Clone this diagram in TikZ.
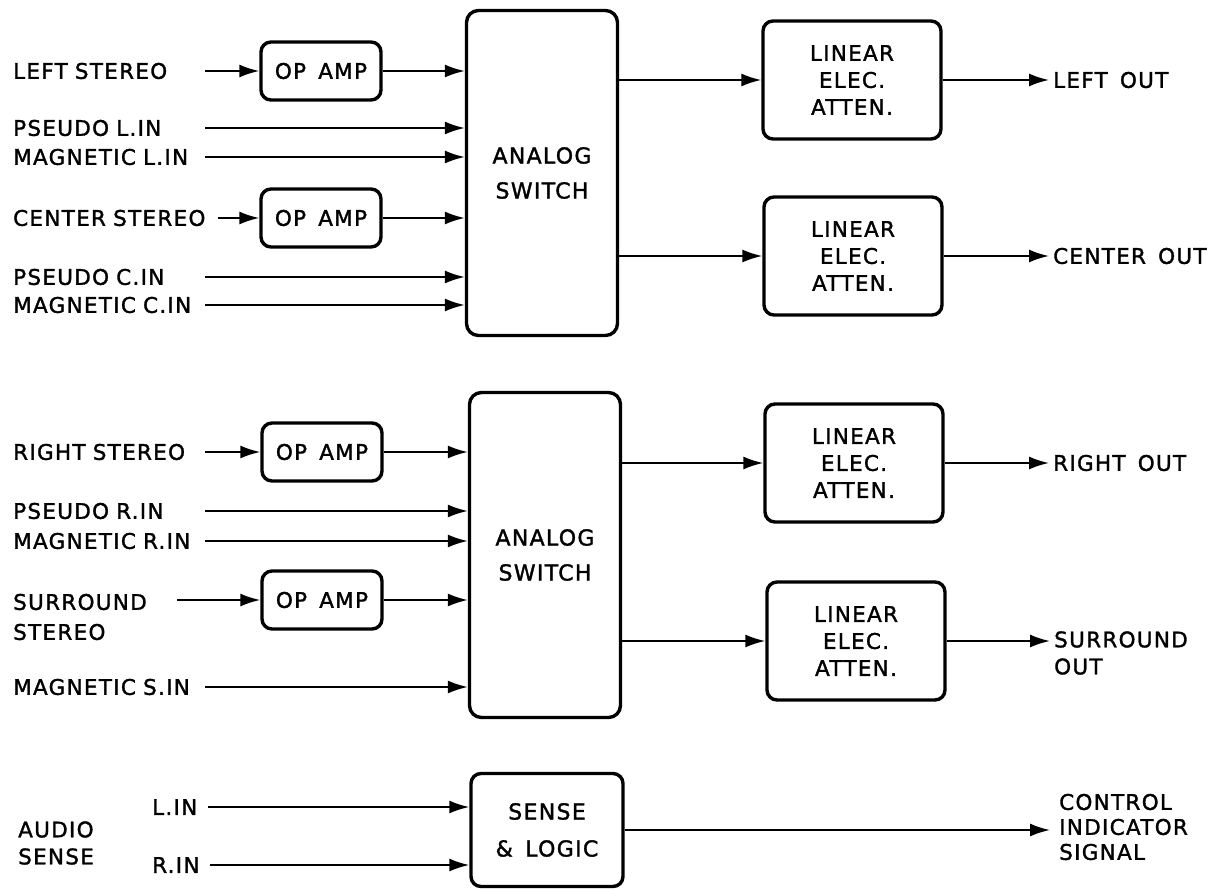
\documentclass[tikz,border=0pt]{standalone}
\usepackage{fontspec}
\setmainfont{DejaVu Sans}[LetterSpace=6, WordSpace=1.5, FakeBold=1.5]
\usetikzlibrary{arrows.meta,positioning,calc}

\begin{document}
\begin{tikzpicture}[x=1pt, y=-1pt, font=\fontsize{21.5}{27}\selectfont,
  blk/.style={draw, line width=3.4pt, rounded corners=10pt, align=center, inner sep=0pt},
  amp/.style={blk, minimum width=120pt, minimum height=58pt},
  att/.style={blk, minimum width=178pt, minimum height=118pt},
  swt/.style={blk, rounded corners=12pt, minimum width=151pt, minimum height=325pt, font=\fontsize{22}{35}\selectfont},
  lbl/.style={anchor=west, inner sep=0pt, text width=192pt, align=left},
  olbl/.style={anchor=west, inner xsep=4pt, inner ysep=0pt, align=left},
  sig/.style={line width=1.9pt, -{Latex[length=20pt, width=13pt]}}]
\useasboundingbox[fill=white] (0,0) rectangle (1222,890);
\node[swt] (swA) at (542,173) {ANALOG\\SWITCH};
\node[amp] (ampL) at (321,71) {OP AMP};
\node[amp] (ampC) at (321,218) {OP AMP};
\node[att] (attL) at (852,80) {LINEAR\\ELEC.\\ATTEN.};
\node[att] (attC) at (853,256) {LINEAR\\ELEC.\\ATTEN.};
\node[lbl] (inLS) at (13,71) {LEFT STEREO};
\node[lbl] (inLP) at (13,128) {PSEUDO L.IN};
\node[lbl] (inLM) at (13,157) {MAGNETIC L.IN};
\node[lbl, text width=205pt] (inCS) at (13,218) {CENTER STEREO};
\node[lbl] (inCP) at (13,277) {PSEUDO C.IN};
\node[lbl] (inCM) at (13,305) {MAGNETIC C.IN};
\node[olbl] (outL) at (1049,80) {LEFT OUT};
\node[olbl] (outC) at (1049,256) {CENTER OUT};
\node[swt] (swB) at (545,555) {ANALOG\\SWITCH};
\node[amp] (ampR) at (322,452) {OP AMP};
\node[amp] (ampS) at (322,600) {OP AMP};
\node[att] (attR) at (854,463) {LINEAR\\ELEC.\\ATTEN.};
\node[att] (attS) at (856,641) {LINEAR\\ELEC.\\ATTEN.};
\node[lbl] (inRS) at (13,452) {RIGHT STEREO};
\node[lbl] (inRP) at (13,511) {PSEUDO R.IN};
\node[lbl] (inRM) at (13,541) {MAGNETIC R.IN};
\node[lbl, text width=164pt, font=\fontsize{21.5}{30}\selectfont] (inSS) at (13,617) {SURROUND\\STEREO};
\node[lbl] (inSM) at (13,687) {MAGNETIC S.IN};
\node[olbl] (outR) at (1049,463) {RIGHT OUT};
\node[olbl] (outS) at (1050,653) {SURROUND\\OUT};
\node[blk, minimum width=152pt, minimum height=113pt, font=\fontsize{22}{37}\selectfont] (logic) at (547,830) {SENSE\\\& LOGIC};
\node[lbl, text width=56pt] (inAL) at (152,807) {L.IN};
\node[lbl, text width=58pt] (inAR) at (152,865) {R.IN};
\node[anchor=west, align=left, inner sep=0pt] (audio) at (18,843) {AUDIO\\SENSE};
\node[olbl, inner xsep=9pt, font=\fontsize{21.5}{25}\selectfont] (ctrl) at (1050,827) {CONTROL\\INDICATOR\\SIGNAL};
\draw[sig] (inLS) -- (ampL);
\draw[sig] (inCS) -- (ampC);
\draw[sig] (ampL.east) -- (ampL.east -| swA.west);
\draw[sig] (inLP.east) -- (inLP.east -| swA.west);
\draw[sig] (inLM.east) -- (inLM.east -| swA.west);
\draw[sig] (ampC.east) -- (ampC.east -| swA.west);
\draw[sig] (inCP.east) -- (inCP.east -| swA.west);
\draw[sig] (inCM.east) -- (inCM.east -| swA.west);
\draw[sig] (attL.west -| swA.east) -- (attL.west);
\draw[sig] (attC.west -| swA.east) -- (attC.west);
\draw[sig] (attL) -- (outL);
\draw[sig] (attC) -- (outC);
\draw[sig] (inRS) -- (ampR);
\draw[sig] (inSS.east |- ampS.west) -- (ampS.west);
\draw[sig] (ampR.east) -- (ampR.east -| swB.west);
\draw[sig] (inRP.east) -- (inRP.east -| swB.west);
\draw[sig] (inRM.east) -- (inRM.east -| swB.west);
\draw[sig] (ampS.east) -- (ampS.east -| swB.west);
\draw[sig] (inSM.east) -- (inSM.east -| swB.west);
\draw[sig] (attR.west -| swB.east) -- (attR.west);
\draw[sig] (attS.west -| swB.east) -- (attS.west);
\draw[sig] (attR) -- (outR);
\draw[sig] (attS.east) -- (attS.east -| outS.west);
\draw[sig] (inAL.east) -- (inAL.east -| logic.west);
\draw[sig] (inAR.east) -- (inAR.east -| logic.west);
\draw[sig] (logic.east) -- (logic.east -| ctrl.west);
\end{tikzpicture}
\end{document}
